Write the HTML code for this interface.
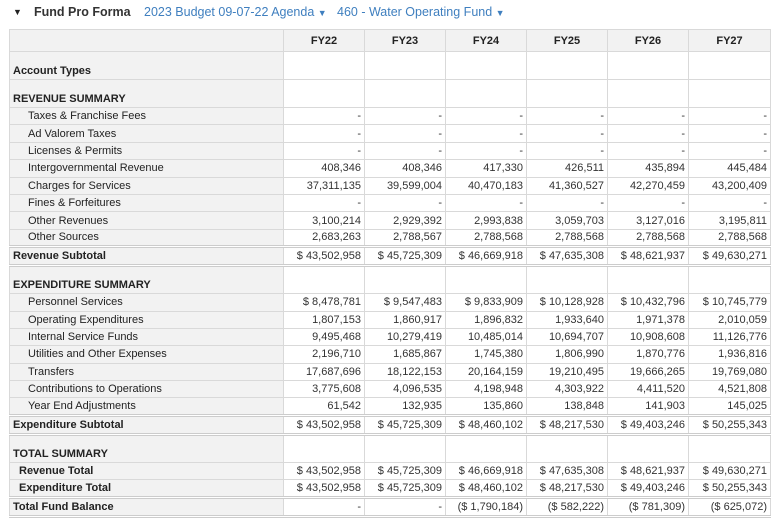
<!DOCTYPE html>
<html><head><meta charset="utf-8"><style>
body{margin:0;width:780px;height:525px;background:#fff;font-family:"Liberation Sans",Arial,sans-serif;color:#222;overflow:hidden}
.top{position:absolute;left:0;top:0;height:24px;font-size:12.5px;line-height:24px;white-space:nowrap}
.top span{position:absolute;top:0}
table{position:absolute;left:9px;top:29px;border-collapse:collapse;table-layout:fixed;font-size:11px;line-height:12px}
td{border:1px solid #d9d9d9;padding:0 3px;white-space:nowrap;overflow:hidden;box-sizing:border-box}
td.l{background:#f2f2f2;text-align:left}
td.n{text-align:right;background:#fff;color:#333}
tr.h{height:22px}
tr.h td{background:#f2f2f2;font-weight:bold;text-align:center}
tr.r{height:17.4px}
tr.s{height:19px}
tr.s td{border-top:3px double #ccc;border-bottom:3px double #ccc}
td.b{font-weight:bold}
td.i1{padding-left:18px}
td.i2{padding-left:9px;font-weight:bold}
tr.t{height:28px}
tr.t td{vertical-align:bottom;padding-bottom:2px}
</style></head><body>
<div class="top">
<span style="left:13px;font-size:9px">&#9660;</span>
<span style="left:34px;font-weight:bold;color:#333">Fund Pro Forma</span>
<span style="left:144px;color:#3f7fbf">2023 Budget 09-07-22 Agenda <small style="font-size:9px">&#9660;</small></span>
<span style="left:337px;color:#3f7fbf">460 - Water Operating Fund <small style="font-size:9px">&#9660;</small></span>
</div>
<table>
<colgroup><col style="width:274px"><col style="width:81px"><col style="width:81px"><col style="width:81px"><col style="width:81px"><col style="width:81px"><col style="width:82px"></colgroup>
<tr class="h"><td></td><td>FY22</td><td>FY23</td><td>FY24</td><td>FY25</td><td>FY26</td><td>FY27</td></tr>
<tr class="t"><td class="l b" style="vertical-align:middle;padding-top:10px;padding-bottom:0">Account Types</td><td class="n"></td><td class="n"></td><td class="n"></td><td class="n"></td><td class="n"></td><td class="n"></td></tr>
<tr class="t"><td class="l b" style="vertical-align:middle;padding-top:10px;padding-bottom:0">REVENUE SUMMARY</td><td class="n"></td><td class="n"></td><td class="n"></td><td class="n"></td><td class="n"></td><td class="n"></td></tr>
<tr class="r"><td class="l i1">Taxes &amp; Franchise Fees</td><td class="n">-</td><td class="n">-</td><td class="n">-</td><td class="n">-</td><td class="n">-</td><td class="n">-</td></tr>
<tr class="r"><td class="l i1">Ad Valorem Taxes</td><td class="n">-</td><td class="n">-</td><td class="n">-</td><td class="n">-</td><td class="n">-</td><td class="n">-</td></tr>
<tr class="r"><td class="l i1">Licenses &amp; Permits</td><td class="n">-</td><td class="n">-</td><td class="n">-</td><td class="n">-</td><td class="n">-</td><td class="n">-</td></tr>
<tr class="r"><td class="l i1">Intergovernmental Revenue</td><td class="n">408,346</td><td class="n">408,346</td><td class="n">417,330</td><td class="n">426,511</td><td class="n">435,894</td><td class="n">445,484</td></tr>
<tr class="r"><td class="l i1">Charges for Services</td><td class="n">37,311,135</td><td class="n">39,599,004</td><td class="n">40,470,183</td><td class="n">41,360,527</td><td class="n">42,270,459</td><td class="n">43,200,409</td></tr>
<tr class="r"><td class="l i1">Fines &amp; Forfeitures</td><td class="n">-</td><td class="n">-</td><td class="n">-</td><td class="n">-</td><td class="n">-</td><td class="n">-</td></tr>
<tr class="r"><td class="l i1">Other Revenues</td><td class="n">3,100,214</td><td class="n">2,929,392</td><td class="n">2,993,838</td><td class="n">3,059,703</td><td class="n">3,127,016</td><td class="n">3,195,811</td></tr>
<tr class="r"><td class="l i1">Other Sources</td><td class="n">2,683,263</td><td class="n">2,788,567</td><td class="n">2,788,568</td><td class="n">2,788,568</td><td class="n">2,788,568</td><td class="n">2,788,568</td></tr>
<tr class="s"><td class="l b">Revenue Subtotal</td><td class="n">$ 43,502,958</td><td class="n">$ 45,725,309</td><td class="n">$ 46,669,918</td><td class="n">$ 47,635,308</td><td class="n">$ 48,621,937</td><td class="n">$ 49,630,271</td></tr>
<tr class="t"><td class="l b">EXPENDITURE SUMMARY</td><td class="n"></td><td class="n"></td><td class="n"></td><td class="n"></td><td class="n"></td><td class="n"></td></tr>
<tr class="r"><td class="l i1">Personnel Services</td><td class="n">$ 8,478,781</td><td class="n">$ 9,547,483</td><td class="n">$ 9,833,909</td><td class="n">$ 10,128,928</td><td class="n">$ 10,432,796</td><td class="n">$ 10,745,779</td></tr>
<tr class="r"><td class="l i1">Operating Expenditures</td><td class="n">1,807,153</td><td class="n">1,860,917</td><td class="n">1,896,832</td><td class="n">1,933,640</td><td class="n">1,971,378</td><td class="n">2,010,059</td></tr>
<tr class="r"><td class="l i1">Internal Service Funds</td><td class="n">9,495,468</td><td class="n">10,279,419</td><td class="n">10,485,014</td><td class="n">10,694,707</td><td class="n">10,908,608</td><td class="n">11,126,776</td></tr>
<tr class="r"><td class="l i1">Utilities and Other Expenses</td><td class="n">2,196,710</td><td class="n">1,685,867</td><td class="n">1,745,380</td><td class="n">1,806,990</td><td class="n">1,870,776</td><td class="n">1,936,816</td></tr>
<tr class="r"><td class="l i1">Transfers</td><td class="n">17,687,696</td><td class="n">18,122,153</td><td class="n">20,164,159</td><td class="n">19,210,495</td><td class="n">19,666,265</td><td class="n">19,769,080</td></tr>
<tr class="r"><td class="l i1">Contributions to Operations</td><td class="n">3,775,608</td><td class="n">4,096,535</td><td class="n">4,198,948</td><td class="n">4,303,922</td><td class="n">4,411,520</td><td class="n">4,521,808</td></tr>
<tr class="r"><td class="l i1">Year End Adjustments</td><td class="n">61,542</td><td class="n">132,935</td><td class="n">135,860</td><td class="n">138,848</td><td class="n">141,903</td><td class="n">145,025</td></tr>
<tr class="s"><td class="l b">Expenditure Subtotal</td><td class="n">$ 43,502,958</td><td class="n">$ 45,725,309</td><td class="n">$ 48,460,102</td><td class="n">$ 48,217,530</td><td class="n">$ 49,403,246</td><td class="n">$ 50,255,343</td></tr>
<tr class="t"><td class="l b">TOTAL SUMMARY</td><td class="n"></td><td class="n"></td><td class="n"></td><td class="n"></td><td class="n"></td><td class="n"></td></tr>
<tr class="r"><td class="l i2">Revenue Total</td><td class="n">$ 43,502,958</td><td class="n">$ 45,725,309</td><td class="n">$ 46,669,918</td><td class="n">$ 47,635,308</td><td class="n">$ 48,621,937</td><td class="n">$ 49,630,271</td></tr>
<tr class="r"><td class="l i2">Expenditure Total</td><td class="n">$ 43,502,958</td><td class="n">$ 45,725,309</td><td class="n">$ 48,460,102</td><td class="n">$ 48,217,530</td><td class="n">$ 49,403,246</td><td class="n">$ 50,255,343</td></tr>
<tr class="s"><td class="l b">Total Fund Balance</td><td class="n">-</td><td class="n">-</td><td class="n">($ 1,790,184)</td><td class="n">($ 582,222)</td><td class="n">($ 781,309)</td><td class="n">($ 625,072)</td></tr>
</table>
</body></html>
